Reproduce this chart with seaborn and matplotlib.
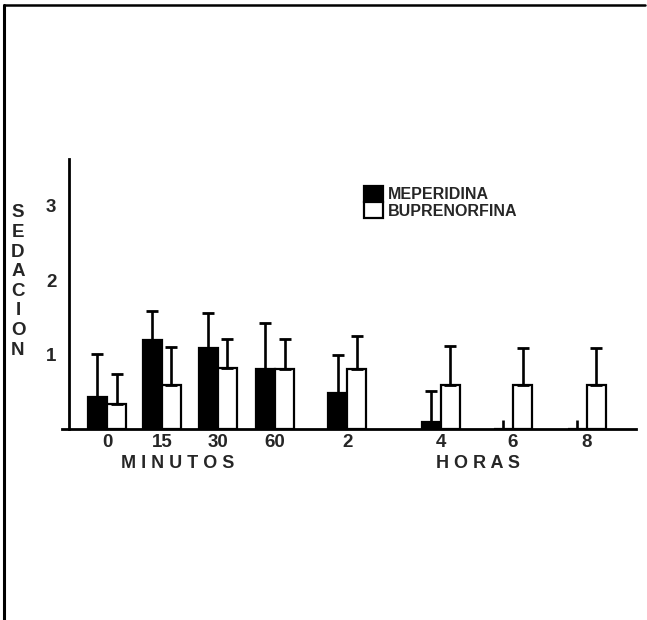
import numpy as np
import pandas as pd
import matplotlib
matplotlib.use("Agg")
import matplotlib.pyplot as plt
import seaborn as sns
from matplotlib.lines import Line2D
from matplotlib.patches import Patch

# ---- data ----
tiempos = ["0", "15", "30", "60", "2", "4", "6", "8"]
meperidina = [0.42, 1.19, 1.08, 0.80, 0.48, 0.09, 0.0, 0.0]
meperidina_sup = [1.00, 1.585, 1.56, 1.42, 0.99, 0.51, 0.12, 0.12]
buprenorfina = [0.33, 0.58, 0.81, 0.80, 0.80, 0.59, 0.59, 0.59]
buprenorfina_sup = [0.73, 1.10, 1.20, 1.20, 1.25, 1.11, 1.09, 1.09]
series = ["MEPERIDINA", "BUPRENORFINA"]
y_ticks = [1, 2, 3]

# ---- layout: group positions along the axis ----
posiciones = [0, 0.98, 1.98, 3.0, 4.29, 5.96, 7.25, 8.57]

df = pd.DataFrame({
    "pos": posiciones * 2,
    "valor": meperidina + buprenorfina,
    "serie": [series[0]] * len(tiempos) + [series[1]] * len(tiempos),
})

sns.set_theme(style="white")
plt.rcParams["font.family"] = ["Liberation Sans", "DejaVu Sans"]

W, H = 647, 620
fig = plt.figure(figsize=(W / 100, H / 100), dpi=100)
fig.patch.set_facecolor("white")

ax_left, ax_right = 62, 636
ax_bot, ax_top = 428.5, 159
ax = fig.add_axes([ax_left / W, 1 - ax_bot / H, (ax_right - ax_left) / W, (ax_bot - ax_top) / H])

sns.barplot(data=df, x="pos", y="valor", hue="serie", hue_order=series,
            palette=["black", "white"], native_scale=True, dodge=True,
            width=0.694, errorbar=None, edgecolor="black", linewidth=1.6,
            saturation=1, legend=False, ax=ax)

# error bars (upper only) from the bar positions
tops = [meperidina_sup, buprenorfina_sup]
vals = [meperidina, buprenorfina]
for cont, top, val in zip(ax.containers, tops, vals):
    for bar, t, v in zip(cont, top, val):
        xc = bar.get_x() + bar.get_width() / 2
        cap = 4.0 if v > 0 else 0
        ax.errorbar([xc], [v], yerr=[[0], [t - v]], fmt="none", ecolor="black",
                    elinewidth=1.9, capsize=cap, capthick=2.0, zorder=1)

px_per_unit = 56.0
x0_px = 107
ax.set_xlim((ax_left - x0_px) / px_per_unit, (ax_right - x0_px) / px_per_unit)
ax.set_ylim(0, 3.63)

ax.spines["left"].set_position(("data", (69 - x0_px) / px_per_unit))
for s in ["top", "right"]:
    ax.spines[s].set_visible(False)
for s in ["left", "bottom"]:
    ax.spines[s].set_color("black")
    ax.spines[s].set_linewidth(2.0)

ax.set_xticks(posiciones)
ax.set_xticklabels(tiempos, fontsize=13.5, fontweight="bold")
ax.tick_params(axis="x", length=0, pad=4)
ax.set_yticks(y_ticks)
ax.set_yticklabels([str(t) for t in y_ticks], fontsize=13.5, fontweight="bold")
ax.tick_params(axis="y", length=8, width=1.8, color="black", direction="out", pad=1)
ax.set_xlabel("")
ax.set_ylabel("")
ax.patch.set_alpha(0)

# axis titles
fig.text(178 / W, 1 - 464 / H, "M I N U T O S", ha="center", va="center",
         fontsize=13, fontweight="bold")
fig.text(478 / W, 1 - 464 / H, "H O R A S", ha="center", va="center",
         fontsize=13, fontweight="bold")
fig.text(18 / W, 1 - 281.5 / H, "\n".join("SEDACION"), ha="center", va="center",
         fontsize=13.5, fontweight="bold", linespacing=1.2)

# legend
handles = [Patch(facecolor="black", edgecolor="black", linewidth=1.6),
           Patch(facecolor="white", edgecolor="black", linewidth=1.6)]
leg = fig.legend(handles, series, loc="upper left",
                 bbox_to_anchor=(364 / W, 1 - 186 / H), frameon=False,
                 fontsize=11.5, handlelength=1.2, handleheight=1.15,
                 labelspacing=0.0, handletextpad=0.3, borderpad=0,
                 borderaxespad=0)
for t in leg.get_texts():
    t.set_fontweight("bold")

# figure frame (left and top borders)
fig.add_artist(Line2D([4 / W, 4 / W], [0, 1 - 5 / H], color="black", lw=2.2,
                      transform=fig.transFigure))
fig.add_artist(Line2D([4 / W, 645 / W], [1 - 5 / H, 1 - 5 / H], color="black",
                      lw=1.8, transform=fig.transFigure))

fig.savefig("out.png", dpi=100)
